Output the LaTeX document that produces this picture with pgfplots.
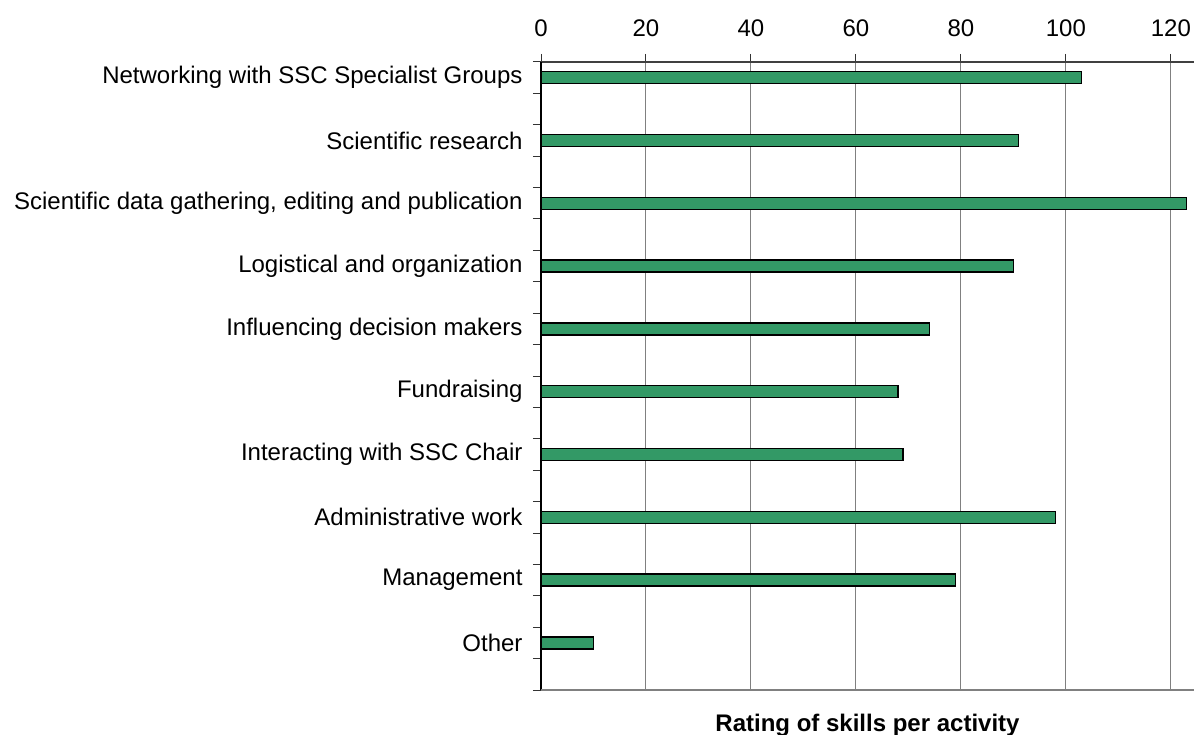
\documentclass[border=0pt]{standalone}
\usepackage{pgfplots}
\pgfplotsset{compat=1.18}
\usepackage{fontspec}
\setmainfont{Liberation Sans}
\definecolor{bargreen}{RGB}{51,153,102}
\definecolor{gridgray}{RGB}{128,128,128}
\begin{document}
\begin{tikzpicture}[font=\fontsize{24}{28}\selectfont]
\path[use as bounding box] (0pt,0pt) rectangle (1194pt,-735pt);
\begin{axis}[
  at={(541pt,-62pt)}, anchor=north west,
  scale only axis, width=653pt, height=628pt,
  xmin=0, xmax=124.4, ymin=0, ymax=20,
  xbar, bar width=12pt,
  axis x line*=top, axis y line*=left,
  x axis line style={draw=black!75, line width=1.1pt},
  y axis line style={draw=black, line width=1.1pt},
  xtick={0,20,40,60,80,100,120},
  minor xtick={0.002,20.002,40.002,60.002,80.002,100.002,120.002},
  ytick={19.5,17.5,15.5,13.5,11.5,9.5,7.5,5.5,3.5,1.5},
  yticklabels={Networking with SSC Specialist Groups,Scientific research,{Scientific data gathering, editing and publication},Logistical and organization,Influencing decision makers,Fundraising,Interacting with SSC Chair,Administrative work,Management,Other},
  minor ytick={0,1,...,20},
  tick align=outside,
  major tick length=0pt,
  minor tick length=8pt,
  tick style={draw=black!80, line width=1pt},
  xmajorgrids,
  major x grid style={draw=gridgray, line width=1pt},
  /pgf/number format/assume math mode=true,
  xticklabel style={font=\fontsize{24}{28}\selectfont, yshift=22pt},
  yticklabel style={font=\fontsize{24}{28}\selectfont, xshift=-15pt},
  xlabel={Rating of skills per activity},
  xlabel style={at={(axis description cs:0.5,0)}, anchor=north, yshift=-21pt, font=\fontsize{24}{28}\selectfont\bfseries},
  clip=false,
]
\addplot[fill=bargreen, draw=black, line width=1.5pt] coordinates {
  (103,19.5) (91,17.5) (123,15.5) (90,13.5) (74,11.5)
  (68,9.5) (69,7.5) (98,5.5) (79,3.5) (10,1.5)
};
\draw[draw=gridgray, line width=1.5pt] (axis description cs:0,0) -- (axis description cs:1,0);
\end{axis}
\end{tikzpicture}
\end{document}
